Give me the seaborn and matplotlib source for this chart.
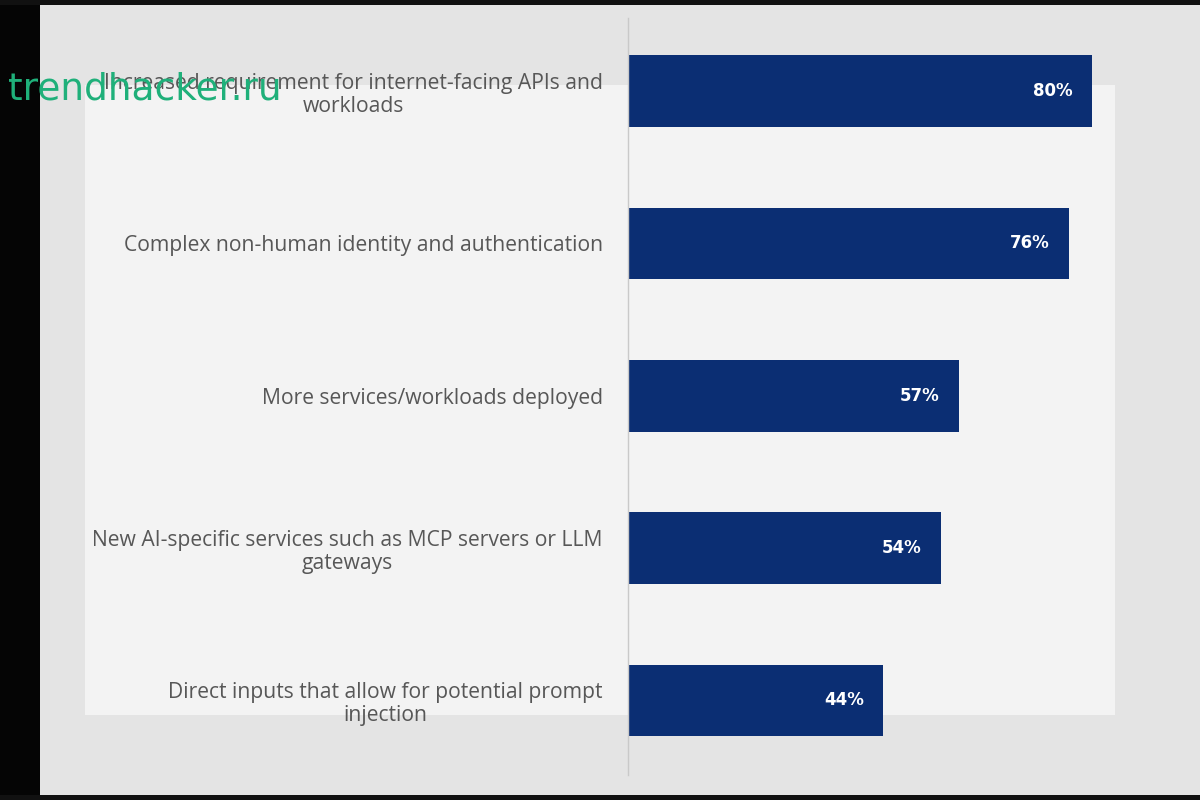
import matplotlib
matplotlib.use("Agg")
import matplotlib.pyplot as plt
import seaborn as sns
import pandas as pd
from matplotlib.patches import Rectangle

categories = [
    "Increased requirement for internet-facing APIs and\nworkloads",
    "Complex non-human identity and authentication",
    "More services/workloads deployed",
    "New AI-specific services such as MCP servers or LLM\ngateways",
    "Direct inputs that allow for potential prompt\ninjection",
]
values = [80, 76, 57, 54, 44]
value_labels = ["80%", "76%", "57%", "54%", "44%"]

df = pd.DataFrame({"category": categories, "value": values})

sns.set_theme(style="white")
plt.rcParams["font.family"] = ["Open Sans", "DejaVu Sans"]

W, H = 1200, 800
fig = plt.figure(figsize=(12, 8), dpi=100)
fig.patch.set_facecolor("#e4e4e4")

# background layers (screenshot look)
fig.patches.append(Rectangle((85 / W, 1 - 715 / H), (1115 - 85) / W, (715 - 85) / H,
                             transform=fig.transFigure, facecolor="#f3f3f3",
                             edgecolor="none", zorder=-5))
fig.patches.append(Rectangle((0, 0), 40 / W, 1, transform=fig.transFigure,
                             facecolor="#050505", edgecolor="none", zorder=-5))
fig.patches.append(Rectangle((0, 1 - 5 / H), 1, 5 / H, transform=fig.transFigure,
                             facecolor="#111111", edgecolor="none", zorder=-5))
fig.patches.append(Rectangle((0, 0), 1, 5 / H, transform=fig.transFigure,
                             facecolor="#111111", edgecolor="none", zorder=-5))

ax_left = 628 / W
ax_w = 522 / W
ax_top = 18 / H
ax_bottom = 775 / H
ax = fig.add_axes([ax_left, 1 - ax_bottom, ax_w, ax_bottom - ax_top])
ax.set_zorder(1)
ax.set_facecolor("none")

sns.barplot(data=df, x="value", y="category", orient="h", color="#0b2e73",
            width=0.47, saturation=1, linewidth=0, ax=ax)

ax.set_xlim(0, 90)
ax.set_ylim(4.49, -0.48)
ax.set_xlabel("")
ax.set_ylabel("")
ax.set_xticks([])
ax.tick_params(axis="y", length=0, pad=18, labelsize=15.2, labelcolor="#575757")
for lab in ax.get_yticklabels():
    lab.set_horizontalalignment("right")
    lab.set_multialignment("center")
    lab.set_linespacing(1.15)

for s in ["top", "right", "bottom"]:
    ax.spines[s].set_visible(False)
ax.spines["left"].set_color("#c9c9c9")
ax.spines["left"].set_linewidth(1.0)

for container in ax.containers:
    ax.bar_label(container, labels=value_labels, padding=-14, color="white",
                 fontsize=12, fontweight="bold", family="DejaVu Sans")
for t in ax.texts:
    t.set_horizontalalignment("right")

fig.text(8 / W, 1 - 89 / H, "trendhacker.ru", color="#1fb07a", fontsize=27,
         family="DejaVu Sans", va="center", ha="left", zorder=10)

fig.savefig("out.png", dpi=100, facecolor=fig.get_facecolor())
